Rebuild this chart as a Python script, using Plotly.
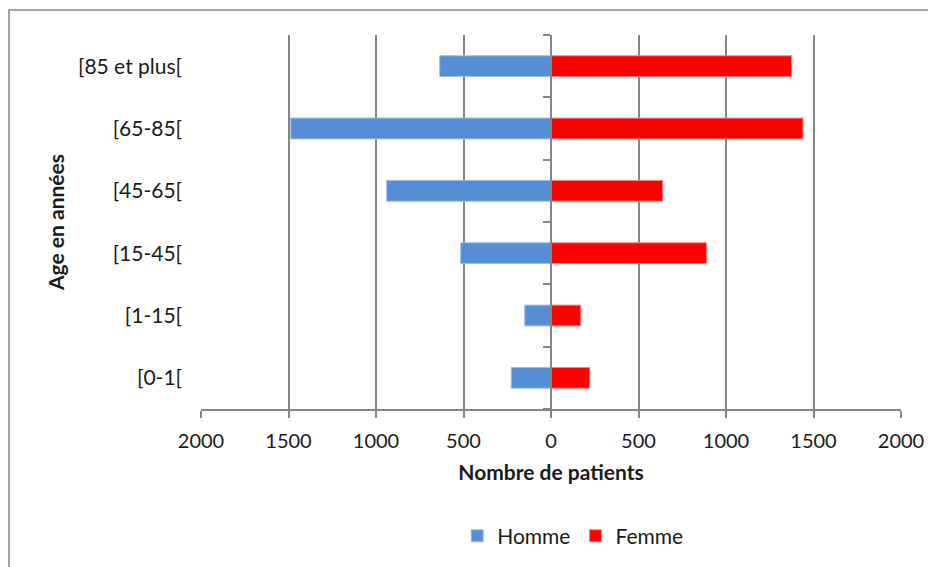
import plotly.graph_objects as go

# tranches d'age (du bas vers le haut)
tranches = ["[0-1[", "[1-15[", "[15-45[", "[45-65[", "[65-85[", "[85 et plus["]
hommes = [227, 150, 516, 939, 1487, 636]
femmes = [221, 170, 889, 638, 1440, 1375]

x_ticks = [-2000, -1500, -1000, -500, 0, 500, 1000, 1500, 2000]
x_labels = [str(abs(v)) for v in x_ticks]

GRIS = "#868686"
FONT = "Lato, 'Liberation Sans', Arial, sans-serif"

fig = go.Figure()
fig.add_trace(go.Bar(
    name="Homme", y=tranches, x=[-v for v in hommes], orientation="h",
    marker=dict(color="#558ED5", line=dict(color="#9DBCE6", width=1)),
))
fig.add_trace(go.Bar(
    name="Femme", y=tranches, x=femmes, orientation="h",
    marker=dict(color="#FF0000", line=dict(color="#FF8080", width=1)),
))
# axe central (x = 0) avec ses graduations entre les tranches
fig.add_trace(go.Scatter(x=[0], y=[0], yaxis="y2", mode="none",
                         showlegend=False, hoverinfo="skip"))

bornes = [i - 0.5 for i in range(len(tranches) + 1)]

# la page ajoute 8 px de marge autour du graphique
fig.update_layout(
    width=936, height=567,
    margin=dict(l=193, r=43, t=27, b=166),
    paper_bgcolor="white", plot_bgcolor="white",
    font=dict(family=FONT, size=21, color="#1a1a1a"),
    barmode="relative", bargap=0.667,
    xaxis=dict(
        range=[-2000, 2000], tickvals=x_ticks, ticktext=x_labels,
        tickfont=dict(size=20),
        showgrid=True, gridcolor=GRIS, gridwidth=2, zeroline=False,
        showline=True, linecolor=GRIS, linewidth=2,
        ticks="outside", ticklen=7, tickcolor=GRIS, tickwidth=2,
        ticklabelstandoff=6,
        title=dict(text="<b>Nombre de patients</b>", font=dict(size=21), standoff=14),
    ),
    yaxis=dict(
        showgrid=False, zeroline=False, showline=False, ticks="",
        range=[-0.5, 5.5], ticklabelstandoff=18,
        title=dict(text="<b>Age en années</b>", font=dict(size=21), standoff=7),
    ),
    yaxis2=dict(
        overlaying="y", anchor="free", position=0.5, range=[-0.5, 5.5],
        tickvals=bornes, showticklabels=False, showgrid=False, zeroline=False,
        showline=True, linecolor=GRIS, linewidth=2,
        ticks="outside", ticklen=7, tickcolor=GRIS, tickwidth=2,
    ),
    legend=dict(
        orientation="h", x=0.531, xanchor="center", y=-0.34, yanchor="middle",
        font=dict(size=21), traceorder="normal",
    ),
    shapes=[dict(
        type="rect", xref="paper", yref="paper",
        x0=(1 - 193) / 700, x1=1.2, y0=-0.6, y1=1 + 25 / 374,
        line=dict(color=GRIS, width=1.5), fillcolor="rgba(0,0,0,0)", layer="below",
    )],
)

fig.write_html("out.html")
